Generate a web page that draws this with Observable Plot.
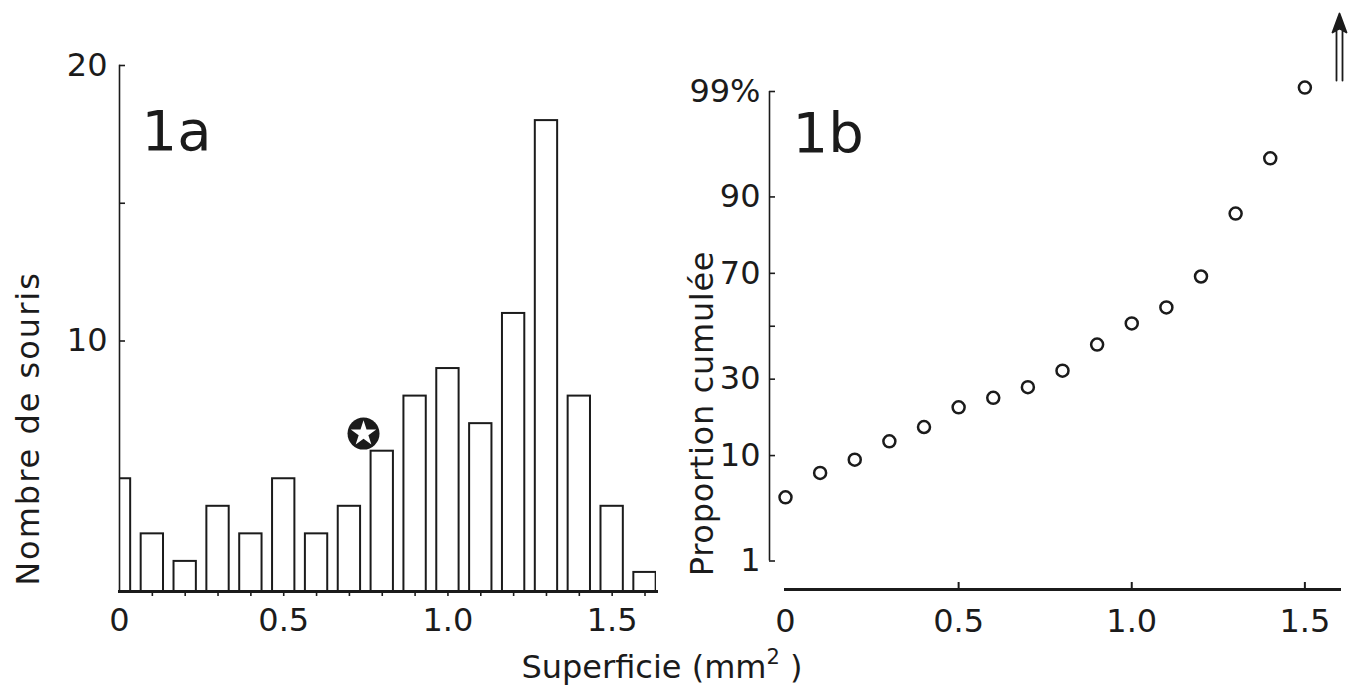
<!DOCTYPE html>
<html><head><meta charset="utf-8">
<script src="https://cdn.jsdelivr.net/npm/d3@7"></script>
<script src="https://cdn.jsdelivr.net/npm/@observablehq/plot@0.6"></script>
<style>
body{margin:0;background:#fff;}
#wrap{position:relative;width:1348px;height:694px;overflow:hidden;font-family:"DejaVu Sans",sans-serif;color:#1b1b1b;background:#fff;}
#left,#right{position:absolute;top:0;}
#left{left:0;width:680px;} #right{left:680px;width:668px;}
#cap{position:absolute;left:0;width:1324px;top:651px;text-align:center;font-size:32px;line-height:1;}
#cap sup{font-size:21px;line-height:0;position:relative;top:-2px;}
</style></head><body>
<div id="wrap"><div id="left"></div><div id="right"></div><div id="cap">Superficie (mm<sup>2</sup> )</div></div>
<script>
// ---- data ----
const binCenters = [0, 0.1, 0.2, 0.3, 0.4, 0.5, 0.6, 0.7, 0.8, 0.9, 1.0, 1.1, 1.2, 1.3, 1.4, 1.5, 1.6];
const counts     = [5, 3, 2, 4, 3, 5, 3, 4, 6, 8, 9, 7, 11, 18, 8, 4, 1.6];
const cumX       = [0, 0.1, 0.2, 0.3, 0.4, 0.5, 0.6, 0.7, 0.8, 0.9, 1.0, 1.1, 1.2, 1.3, 1.4, 1.5];
const cumPct     = [4.5, 7.3, 9.3, 12.7, 15.9, 21.1, 23.9, 27.3, 33.0, 42.8, 51.1, 57.4, 68.9, 86.8, 95.2, 99.1];
const xTicksMinor = [0.1, 0.2, 0.3, 0.4, 0.5, 0.6, 0.7, 0.8, 0.9, 1.0, 1.1, 1.2, 1.3, 1.4, 1.5, 1.6];
const xTicksMajor = [0, 0.5, 1, 1.5];
const xTickLabels = ["0", "0.5", "1.0", "1.5"];
const xTicksInnerB = [0.5, 1, 1.5];
const yTicksA = [10, 15, 20];
const yLabelTicksA = [10, 20];
const yTicksB = [1, 10, 30, 50, 70, 90, 99];
const yTickLabelsB = ["1", "10", "30", "", "70", "90", "99%"];
const starMark = [{x: 0.743, y: 6.64}];
const arrowX = [1.6];

// inverse normal CDF (probit), Acklam's approximation
function probit(p) {
  const a = [-3.969683028665376e+01, 2.209460984245205e+02, -2.759285104469687e+02, 1.383577518672690e+02, -3.066479806614716e+01, 2.506628277459239e+00];
  const b = [-5.447609879822406e+01, 1.615858368580409e+02, -1.556989798598866e+02, 6.680131188771972e+01, -1.328068155288572e+01];
  const c = [-7.784894002430293e-03, -3.223964580411365e-01, -2.400758277161838e+00, -2.549732539343734e+00, 4.374664141464968e+00, 2.938163982698783e+00];
  const d = [7.784695709041462e-03, 3.224671290700398e-01, 2.445134137142996e+00, 3.754408661907416e+00];
  const pl = 0.02425, ph = 1 - pl;
  let q, r;
  if (p < pl) {
    q = Math.sqrt(-2 * Math.log(p));
    return (((((c[0]*q+c[1])*q+c[2])*q+c[3])*q+c[4])*q+c[5]) / ((((d[0]*q+d[1])*q+d[2])*q+d[3])*q+1);
  }
  if (p <= ph) {
    q = p - 0.5; r = q * q;
    return (((((a[0]*r+a[1])*r+a[2])*r+a[3])*r+a[4])*r+a[5])*q / (((((b[0]*r+b[1])*r+b[2])*r+b[3])*r+b[4])*r+1);
  }
  q = Math.sqrt(-2 * Math.log(1 - p));
  return -(((((c[0]*q+c[1])*q+c[2])*q+c[3])*q+c[4])*q+c[5]) / ((((d[0]*q+d[1])*q+d[2])*q+d[3])*q+1);
}

const ink = "#1b1b1b";
const font = "DejaVu Sans, sans-serif";
const hist = binCenters.map((x, i) => ({x, n: counts[i]}));
const halfW = 0.034;
const majorLabel = d => xTickLabels[xTicksMajor.indexOf(d)];

const left = Plot.plot({
  width: 680, height: 694,
  marginLeft: 119, marginRight: 24, marginTop: 65, marginBottom: 103,
  style: {fontFamily: font, fontSize: "32px", color: ink, background: "transparent", overflow: "visible"},
  x: {domain: [0, 1.635]},
  y: {domain: [0, 20], range: [616, 65]},
  marks: [
    Plot.rect(hist, {x1: d => d.x - halfW, x2: d => d.x + halfW, y1: () => 0, y2: "n", fill: "white", stroke: ink, strokeWidth: 2, clip: true}),
    Plot.frame({anchor: "left", stroke: ink, strokeWidth: 1.6}),
    Plot.frame({anchor: "bottom", stroke: ink, strokeWidth: 3}),
    Plot.axisY({ticks: yTicksA, tickSize: 6, dx: 6, tickFormat: () => "", strokeWidth: 1.6, label: null}),
    Plot.axisY({ticks: yLabelTicksA, tickSize: 0, tickPadding: 12, tickFormat: d => String(d), fontSize: 32, label: null}),
    Plot.axisX({ticks: xTicksMinor, tickSize: 5, tickFormat: () => "", strokeWidth: 1.6, label: null}),
    Plot.axisX({ticks: xTicksMajor, tickSize: 0, tickPadding: 17, tickFormat: majorLabel, fontSize: 32, label: null}),
    Plot.dot(starMark, {x: "x", y: "y", r: 16, fill: ink}),
    Plot.dot(starMark, {x: "x", y: "y", r: 8, symbol: "star", fill: "white"}),
    Plot.text(["1a"], {frameAnchor: "top-left", dx: 22, dy: 45, fontSize: 56, textAnchor: "start", lineAnchor: "top", fill: ink}),
    Plot.text(["Nombre de souris"], {frameAnchor: "left", rotate: -90, dx: -91, dy: 100, fontSize: 32, textAnchor: "middle", lineAnchor: "middle", fill: ink})
  ]
});
d3.select(left).selectAll("text").filter(function() { return this.textContent === "Nombre de souris"; }).attr("letter-spacing", "2px");
document.getElementById("left").append(left);

const pts = cumX.map((x, i) => ({x, z: probit(cumPct[i] / 100)}));
const zTicks = yTicksB.map(p => probit(p / 100));
const labelB = z => yTickLabelsB[zTicks.indexOf(z)];
const arrowShape = {
  draw(ctx, l) {
    ctx.moveTo(-3, 0); ctx.lineTo(-3, -l + 14);
    ctx.moveTo(3, 0); ctx.lineTo(3, -l + 14);
    ctx.moveTo(-7, -l + 19); ctx.lineTo(0, -l); ctx.lineTo(7, -l + 19); ctx.lineTo(0, -l + 15); ctx.closePath();
  }
};

const right = Plot.plot({
  width: 668, height: 694,
  marginLeft: 105, marginRight: 9, marginTop: 91, marginBottom: 105,
  style: {fontFamily: font, fontSize: "32px", color: ink, background: "transparent", overflow: "visible"},
  x: {domain: [0, 1.6]},
  y: {domain: [probit(0.01), probit(0.99)], range: [560.5, 91]},
  marks: [
    Plot.frame({anchor: "bottom", stroke: ink, strokeWidth: 3}),
    Plot.ruleX([0], {y1: zTicks[0], y2: zTicks[zTicks.length - 1], dx: -16, stroke: ink, strokeWidth: 1.6}),
    Plot.axisY({ticks: zTicks, tickSize: 6, dx: -10, tickFormat: () => "", strokeWidth: 1.6, label: null}),
    Plot.axisY({ticks: zTicks, tickSize: 0, tickPadding: 0, dx: -25, tickFormat: labelB, fontSize: 32, label: null}),
    Plot.axisX({ticks: xTicksInnerB, tickSize: 7, dy: -7, tickFormat: () => "", strokeWidth: 2, label: null}),
    Plot.axisX({ticks: xTicksMajor, tickSize: 0, tickPadding: 20, tickFormat: majorLabel, fontSize: 32, label: null}),
    Plot.dot(pts, {x: "x", y: "z", r: 6, stroke: ink, strokeWidth: 2.5, fill: "white"}),
    Plot.vector(arrowX, {x: d => d, frameAnchor: "top", anchor: "start", length: 67, dy: -11, shape: arrowShape, stroke: ink, strokeWidth: 1.8, fill: ink}),
    Plot.text(["1b"], {frameAnchor: "top-left", dx: 7, dy: 21, fontSize: 56, textAnchor: "start", lineAnchor: "top", fill: ink}),
    Plot.text(["Proportion cumulée"], {frameAnchor: "left", rotate: -90, dx: -83, dy: 73, fontSize: 32, textAnchor: "middle", lineAnchor: "middle", fill: ink})
  ]
});
d3.select(right).selectAll("text").filter(function() { return this.textContent === "Proportion cumulée"; }).attr("letter-spacing", "0.7px");
document.getElementById("right").append(right);
</script>
</body></html>
